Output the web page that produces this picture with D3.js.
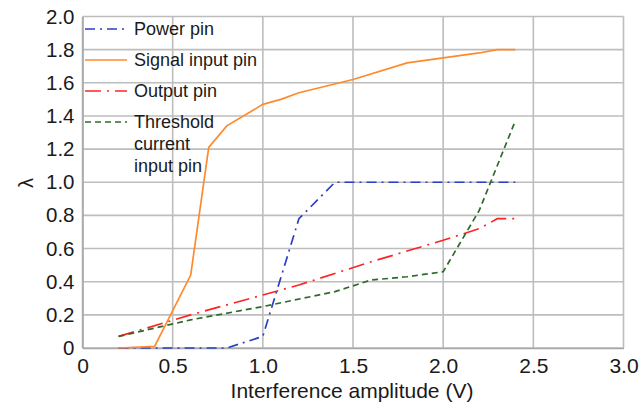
<!DOCTYPE html>
<html>
<head>
<meta charset="utf-8">
<script src="https://cdn.jsdelivr.net/npm/d3@7"></script>
<style>
  body { margin: 0; background: #fff; }
  text { font-family: "Liberation Sans", Arial, sans-serif; fill: #1a1a1a; }
</style>
</head>
<body>
<script>
// Data
const xTicks = [0, 0.5, 1.0, 1.5, 2.0, 2.5, 3.0];
const yTicks = [0, 0.2, 0.4, 0.6, 0.8, 1.0, 1.2, 1.4, 1.6, 1.8, 2.0];

const powerPin = [[0.2, 0], [0.8, 0], [1.0, 0.07], [1.2, 0.78], [1.4, 1.0], [2.4, 1.0]];
const signalPin = [[0.2, 0], [0.4, 0.01], [0.6, 0.44], [0.7, 1.21], [0.8, 1.34], [1.0, 1.47],
  [1.1, 1.5], [1.2, 1.54], [1.5, 1.62], [1.8, 1.72], [2.0, 1.75], [2.2, 1.78], [2.3, 1.8], [2.4, 1.8]];
const outputPin = [[0.2, 0.07], [0.6, 0.2], [1.0, 0.32], [1.2, 0.38], [1.6, 0.52], [2.0, 0.65],
  [2.2, 0.72], [2.3, 0.78], [2.4, 0.78]];
const thresholdPin = [[0.2, 0.07], [0.6, 0.17], [1.0, 0.25], [1.4, 0.34], [1.6, 0.41], [1.8, 0.43],
  [2.0, 0.46], [2.2, 0.83], [2.4, 1.37]];

const series = [
  { name: ['Power pin'], data: powerPin, color: '#2b3fc4', dash: '10,5,2,5' },
  { name: ['Signal input pin'], data: signalPin, color: '#ff8a2b', dash: null },
  { name: ['Output pin'], data: outputPin, color: '#ff2424', dash: '16,6,2,6' },
  { name: ['Threshold', 'current', 'input pin'], data: thresholdPin, color: '#2e6b2a', dash: '6,4' }
];

const width = 641;
const height = 403;

const svg = d3.select('body')
  .append('svg')
  .attr('width', width)
  .attr('height', height);

const x = d3.scaleLinear().domain([0, 3]).range([82.5, 623.5]);
const y = d3.scaleLinear().domain([0, 2]).range([348, 16.5]);

// grid
const grid = svg.append('g').attr('stroke', '#bdbdbd').attr('stroke-width', 1.6);
grid.selectAll('.vx')
  .data(xTicks)
  .join('line')
  .attr('x1', d => x(d)).attr('x2', d => x(d))
  .attr('y1', y(0)).attr('y2', y(2));
grid.selectAll('.hy')
  .data(yTicks)
  .join('line')
  .attr('x1', x(0)).attr('x2', x(3))
  .attr('y1', d => y(d)).attr('y2', d => y(d));

// axes (labels only, lines come from the grid)
const xAxis = svg.append('g')
  .attr('transform', `translate(0,${y(0)})`)
  .call(d3.axisBottom(x).tickValues(xTicks).tickSize(0).tickPadding(10)
    .tickFormat(d => d === 0 ? '0' : d3.format('.1f')(d)));
xAxis.select('.domain').attr('stroke', '#a8a8a8').attr('stroke-width', 1.6);
xAxis.selectAll('text').attr('font-size', 21).attr('fill', '#1a1a1a');

const yAxis = svg.append('g')
  .attr('transform', `translate(${x(0)},0)`)
  .call(d3.axisLeft(y).tickValues(yTicks).tickSize(0).tickPadding(8)
    .tickFormat(d => d === 0 ? '0' : d3.format('.1f')(d)));
yAxis.select('.domain').attr('stroke', '#a8a8a8').attr('stroke-width', 1.6);
yAxis.selectAll('text').attr('font-size', 20.5).attr('fill', '#1a1a1a');

// axis titles
svg.append('text')
  .attr('x', 352)
  .attr('y', 398)
  .attr('text-anchor', 'middle')
  .attr('font-size', 21)
  .text('Interference amplitude (V)');

svg.append('text')
  .attr('transform', 'translate(33,183) rotate(-90)')
  .attr('text-anchor', 'middle')
  .attr('font-size', 20)
  .text('λ');

// lines
const line = d3.line().x(d => x(d[0])).y(d => y(d[1]));
svg.append('g')
  .selectAll('path')
  .data(series)
  .join('path')
  .attr('d', d => line(d.data))
  .attr('fill', 'none')
  .attr('stroke', d => d.color)
  .attr('stroke-width', 1.7)
  .attr('stroke-dasharray', d => d.dash);

// legend
const rowY = [29, 60, 91, 122];
const legend = svg.append('g');
series.forEach((s, i) => {
  legend.append('line')
    .attr('x1', 85).attr('x2', 127)
    .attr('y1', rowY[i]).attr('y2', rowY[i])
    .attr('stroke', s.color)
    .attr('stroke-width', 1.7)
    .attr('stroke-dasharray', s.dash);
  const t = legend.append('text')
    .attr('x', 134)
    .attr('y', rowY[i] + 6)
    .attr('font-size', 18);
  s.name.forEach((part, j) => {
    t.append('tspan')
      .attr('x', 134)
      .attr('dy', j === 0 ? 0 : 22)
      .text(part);
  });
});
</script>
</body>
</html>
